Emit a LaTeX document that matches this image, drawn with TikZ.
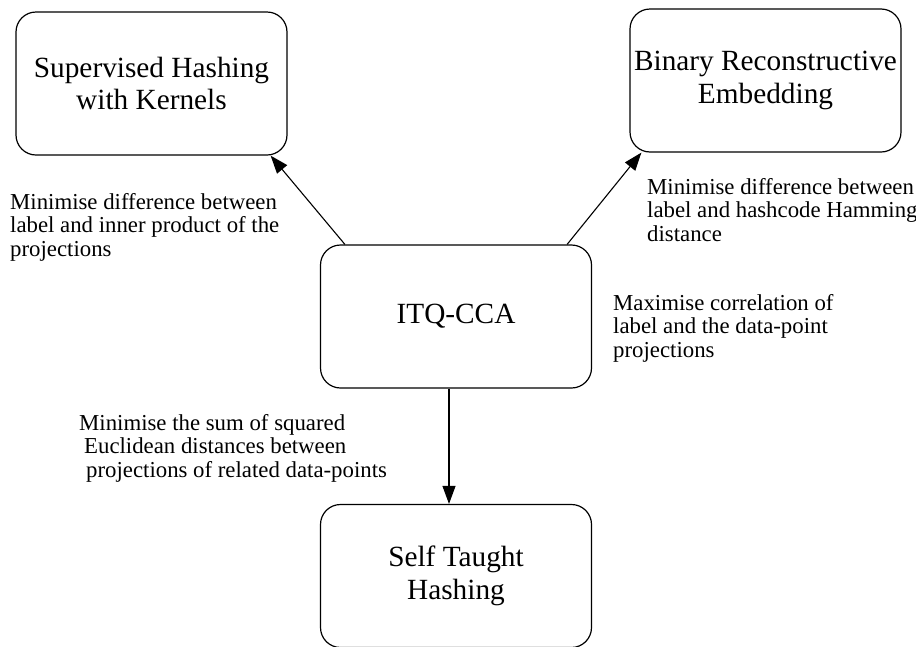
\documentclass[tikz,border=0pt]{standalone}
\usepackage{fontspec}
\setmainfont{Liberation Serif}
\usetikzlibrary{arrows.meta,calc}
\begin{document}
\begin{tikzpicture}[x=1pt,y=-1pt,
  methodbox/.style={draw,line width=1.2pt,rounded corners=20pt,
    minimum width=271pt,minimum height=143pt,inner sep=0pt,align=center,
    font=\fontsize{29.3pt}{32.5pt}\selectfont},
  note/.style={anchor=north west,inner sep=0pt,align=left,
    font=\fontsize{22.8pt}{23.5pt}\selectfont},
  link/.style={line width=1.1pt,-{Triangle[length=18pt,width=13pt]}}]
  \useasboundingbox (0,0) rectangle (916,646);

  % method boxes
  \node[methodbox] (shk) at (151.5,83.5) {Supervised Hashing\\with Kernels};
  \node[methodbox] (bre) at (765.5,80.5) {Binary Reconstructive\\Embedding};
  \node[methodbox] (itq) at (456,316.5) {ITQ-CCA};
  \node[methodbox] (sth) at (456,576) {Self Taught\\Hashing};

  % relations from ITQ-CCA
  \draw[link] ($(itq.north west)+(25,0)$) -- ($(shk.south east)+(-17,0)$);
  \draw[link] ($(itq.north east)+(-25,0)$) -- ($(bre.south west)+(12,0)$);
  \draw[link] (itq.south -| 449,0) -- (sth.north -| 449,0);

  % relation descriptions
  \node[note] (nshk) at (10,193) {Minimise difference between\\label and inner product of the\\projections};
  \node[note] (nbre) at (647,178) {Minimise difference between\\label and hashcode Hamming\\distance};
  \node[note] (nitq) at (613,294) {Maximise correlation of\\label and the data-point\\projections};
  \node[note] (nsth) at (79,414) {Minimise the sum of squared\\\hspace*{5pt}Euclidean distances between\\\hspace*{7pt}projections of related data-points};
\end{tikzpicture}
\end{document}
